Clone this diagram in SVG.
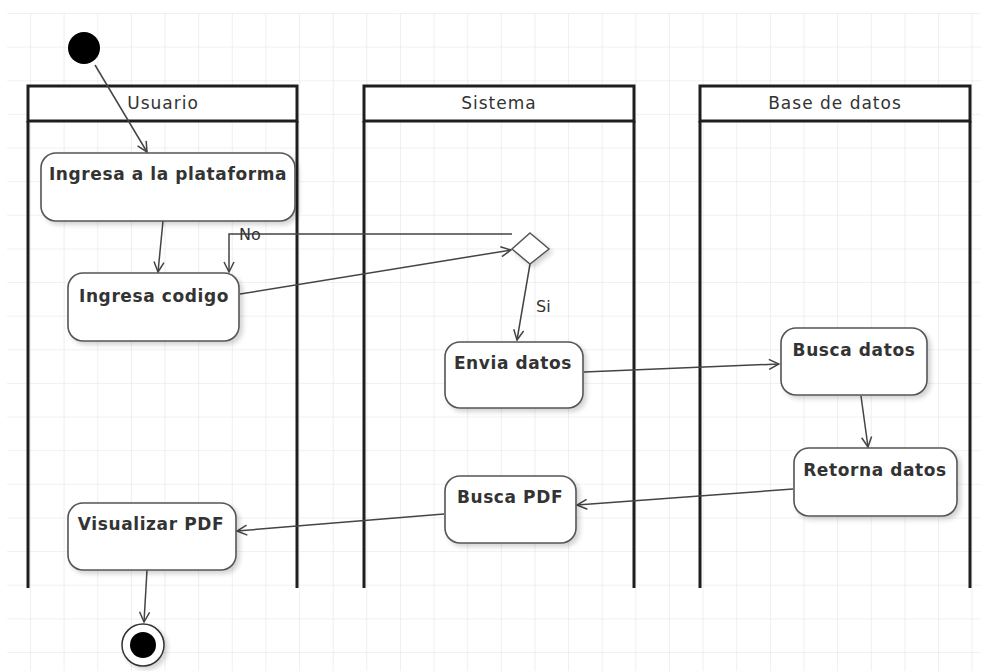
<svg xmlns="http://www.w3.org/2000/svg" width="981" height="671" viewBox="0 0 981 671">
<style>
.lane{fill:none;stroke:#1e1e1e;stroke-width:3}
.hdr{fill:#fff;stroke:#1e1e1e;stroke-width:3}
.htxt{font-family:"DejaVu Sans",sans-serif;font-size:17px;letter-spacing:1px;fill:#333;text-anchor:middle}
.node{fill:#fff;stroke:#555;stroke-width:1.6;filter:url(#sh)}
.ntxt{font-family:"DejaVu Sans",sans-serif;font-size:17px;font-weight:bold;letter-spacing:0.6px;fill:#333;text-anchor:middle}
.lbl{font-family:"DejaVu Sans",sans-serif;font-size:16px;fill:#333}
.edge{fill:none;stroke:#444;stroke-width:1.5;marker-end:url(#ah)}
.plain{fill:none;stroke:#444;stroke-width:1.5}
</style>
<defs>
<pattern id="grid" x="30" y="13" width="33.63" height="33.63" patternUnits="userSpaceOnUse">
<path d="M0,0 V33.63 M0,0 H33.63" fill="none" stroke="#e4e4e4" stroke-width="1.2"/>
</pattern>
<marker id="ah" viewBox="0 0 12 12" refX="11" refY="6" markerWidth="12" markerHeight="12" markerUnits="userSpaceOnUse" orient="auto">
<path d="M1,1 L11,6 L1,11" fill="none" stroke="#444" stroke-width="1.5"/>
</marker>
<filter id="sh" x="-10%" y="-10%" width="130%" height="140%">
<feGaussianBlur in="SourceAlpha" stdDeviation="2.5"/>
<feOffset dx="3" dy="3" result="b"/>
<feComponentTransfer><feFuncA type="linear" slope="0.18"/></feComponentTransfer>
<feMerge><feMergeNode/><feMergeNode in="SourceGraphic"/></feMerge>
</filter>
</defs>
<rect x="0" y="0" width="981" height="671" fill="#fff"/>
<rect x="7" y="13" width="974" height="658" fill="url(#grid)"/>

<g id="lane-usuario">
<path class="lane" d="M28,121 V588 M297,121 V588"/>
<rect class="hdr" x="28" y="86" width="269" height="35"/>
<text class="htxt" x="163" y="109">Usuario</text>
</g>
<g id="lane-sistema">
<path class="lane" d="M364,121 V588 M634,121 V588"/>
<rect class="hdr" x="364" y="86" width="270" height="35"/>
<text class="htxt" x="499" y="109">Sistema</text>
</g>
<g id="lane-base">
<path class="lane" d="M700,121 V588 M970,121 V588"/>
<rect class="hdr" x="700" y="86" width="270" height="35"/>
<text class="htxt" x="835" y="109">Base de datos</text>
</g>

<g id="connectors">
<path class="edge" d="M95,65 L147,152"/>
<path class="edge" d="M163,221 L158,272"/>
<path class="edge" d="M512,234 H229 V272"/>
<text class="lbl" x="239" y="240">No</text>
<path class="edge" d="M240,294 L511,250"/>
<path class="edge" d="M530,264 L517,340"/>
<text class="lbl" x="536" y="312">Si</text>
<path class="edge" d="M584,372 L779,364"/>
<path class="edge" d="M861,396 L868,447"/>
<path class="edge" d="M793,489 L577,505"/>
<path class="edge" d="M444,514 L237,531"/>
<path class="edge" d="M147,570 L144,622"/>
</g>

<g id="start">
<circle cx="84" cy="48" r="16" fill="#000"/>
</g>
<g id="decision">
<path d="M530,233 L549,249 L530,264 L512,249 Z" fill="#fff" stroke="#555" stroke-width="1.5" filter="url(#sh)"/>
</g>
<g id="n-ingresa-plataforma">
<rect class="node" x="41" y="153" width="254" height="68" rx="15"/>
<text class="ntxt" x="168" y="180">Ingresa a la plataforma</text>
</g>
<g id="n-ingresa-codigo">
<rect class="node" x="68" y="273" width="171" height="68" rx="15"/>
<text class="ntxt" x="154" y="302">Ingresa codigo</text>
</g>
<g id="n-envia-datos">
<rect class="node" x="445" y="342" width="138" height="66" rx="15"/>
<text class="ntxt" x="513" y="369">Envia datos</text>
</g>
<g id="n-busca-datos">
<rect class="node" x="781" y="328" width="146" height="67" rx="15"/>
<text class="ntxt" x="854" y="356">Busca datos</text>
</g>
<g id="n-retorna-datos">
<rect class="node" x="794" y="448" width="163" height="68" rx="15"/>
<text class="ntxt" x="875" y="476">Retorna datos</text>
</g>
<g id="n-busca-pdf">
<rect class="node" x="445" y="476" width="131" height="67" rx="15"/>
<text class="ntxt" x="510" y="503">Busca PDF</text>
</g>
<g id="n-visualizar-pdf">
<rect class="node" x="68" y="503" width="168" height="67" rx="15"/>
<text class="ntxt" x="151" y="530">Visualizar PDF</text>
</g>
<g id="end">
<circle cx="143" cy="645" r="21" fill="#fff" stroke="#333" stroke-width="1.5" filter="url(#sh)"/>
<circle cx="143" cy="645" r="13" fill="#000"/>
</g>
</svg>
